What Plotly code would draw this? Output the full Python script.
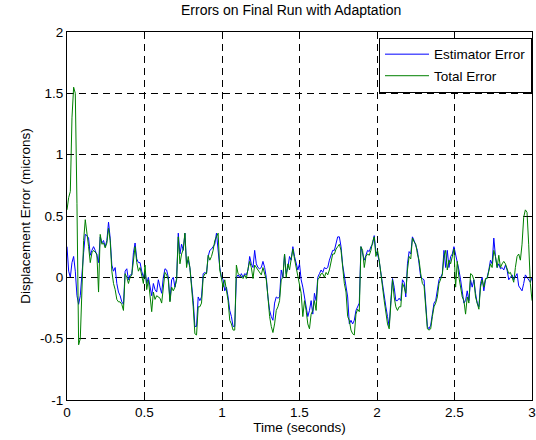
import numpy as np
import plotly.graph_objects as go

# Sample times over the 3 s run (281 samples)
n_samples = 281
time_s = np.linspace(0.0, 3.0, n_samples)

# Estimator error (microns)
estimator_error = [
    0.25, 0.05, 0.00, 0.12, 0.17, 0.05, -0.15, -0.22, -0.15,
    0.05, 0.20, 0.35, 0.34, 0.32, 0.18, 0.22, 0.25, 0.22, 0.18, 0.12, 0.33, 0.28, 0.30,
    0.25, 0.30, 0.45, 0.32, 0.10, 0.05, 0.08, -0.05, -0.12, -0.15, -0.20, -0.22, 0.05,
    0.07, -0.02, 0.02, 0.02, 0.20, 0.28, 0.15, 0.12, 0.12, 0.05,
    0.00, 0.05, -0.05, 0.00, -0.08, -0.15, -0.05, -0.10, -0.12,
    -0.02, -0.08, -0.13, 0.00, 0.07, 0.06, 0.00, -0.19, -0.02, 0.00,
    -0.08, -0.01, 0.36, 0.19, 0.27, 0.22, 0.36, 0.11, 0.14, 0.08,
    -0.05, -0.19, -0.40, -0.40, -0.16, -0.19, -0.16, 0.03, 0.04, 0.03,
    0.17, 0.22, 0.23, 0.25, 0.27, 0.36, 0.19, 0.08, 0.00, -0.02,
    -0.11, -0.08, -0.16, -0.27, -0.32, -0.40, -0.40, 0.00, 0.02, 0.00,
    0.03, 0.00, 0.03, 0.02, 0.06, 0.17, 0.11, 0.08,
    0.22, 0.11, 0.08, 0.07, 0.08, 0.13, 0.08, 0.00, -0.16, -0.27,
    -0.32, -0.35, -0.21, -0.16, -0.17, -0.16, 0.06, 0.00, 0.19, 0.03,
    0.08, 0.17, 0.14, 0.25, 0.17, 0.11, 0.06, 0.11, -0.02, -0.08,
    -0.16, -0.24, -0.32, -0.27, -0.19, -0.30, -0.13, -0.19, 0.00, 0.03,
    0.06, 0.04, 0.08, 0.07, 0.08, 0.14, 0.19, 0.22, 0.22, 0.27,
    0.33, 0.33, 0.25, 0.10, 0.02, -0.05,
    -0.16, -0.38, -0.35, -0.38, -0.35, -0.27, -0.24, -0.21, 0.25, 0.19,
    0.14, 0.18, 0.22, 0.21, 0.25, 0.27, 0.34, 0.21, 0.19, 0.13,
    0.03, -0.05, -0.13, -0.24, -0.32, -0.40, -0.19, -0.01, -0.08, -0.19,
    -0.19, -0.17, -0.19, -0.02, -0.04, -0.16, 0.11, 0.21, 0.19, 0.33,
    0.30, 0.25, 0.22, 0.11, 0.00, -0.01, -0.02, -0.21, -0.40, -0.42,
    -0.39, -0.30, -0.21, -0.19, -0.11, -0.02,
    0.00, 0.03, 0.22, 0.08, 0.22, 0.08, 0.17, 0.19, 0.25, 0.19,
    0.11, 0.06, -0.02, -0.11, -0.21, -0.19, -0.11, -0.19, -0.02, -0.08,
    -0.02, -0.13, -0.21, -0.24, -0.05, 0.00, -0.11, -0.02, 0.00, 0.06,
    0.14, 0.11, 0.32, 0.17, 0.08, 0.11, 0.07, 0.08, 0.06, 0.10,
    0.06, -0.02, 0.00, 0.02, -0.02, 0.00, 0.03, -0.07, -0.09, -0.11,
    -0.05, 0.02, 0.00, -0.02, -0.04, 0.00,
]

# Total error (microns)
total_error = [
    0.55, 0.65, 0.70, 1.30, 1.55, 1.50, 0.60, -0.55, -0.50,
    0.00, 0.30, 0.47, 0.38, 0.25, 0.12, 0.20, 0.22, 0.20, 0.19, -0.12, 0.35, 0.27, 0.28,
    0.24, 0.28, 0.40, 0.30, 0.05, -0.05, -0.10, -0.18, -0.20, -0.20, -0.22, -0.27, 0.03,
    0.00, -0.05, 0.00, 0.02, 0.15, 0.25, 0.12, 0.05, 0.08, 0.00,
    -0.05, 0.10, -0.10, -0.02, -0.15, -0.28, -0.12, -0.18, -0.15,
    -0.16, -0.17, -0.21, -0.08, 0.04, 0.02, -0.02, -0.20, -0.08, -0.11,
    -0.08, -0.02, 0.33, 0.11, 0.19, 0.23, 0.36, 0.08, 0.17, 0.08,
    -0.07, -0.24, -0.46, -0.47, -0.24, -0.24, -0.21, 0.00, 0.03, 0.03,
    0.18, 0.14, 0.17, 0.22, 0.30, 0.33, 0.36, 0.06, -0.02, -0.08,
    -0.02, -0.11, -0.19, -0.35, -0.38, -0.43, -0.43, 0.10, 0.03, 0.02,
    0.00, -0.01, 0.02, -0.01, 0.07, 0.13, 0.08, -0.01,
    0.10, 0.08, 0.06, 0.04, 0.02, 0.08, 0.03, -0.02, -0.16, -0.32,
    -0.40, -0.45, -0.38, -0.27, -0.24, -0.19, -0.02, 0.00, 0.19, 0.00,
    0.11, 0.06, 0.15, 0.23, 0.15, 0.08, 0.00, -0.05, -0.13, -0.32,
    -0.19, -0.27, -0.38, -0.42, -0.30, -0.27, -0.19, -0.27, -0.02, 0.00,
    0.03, 0.03, 0.00, 0.04, 0.02, 0.06, 0.14, 0.19, 0.19, 0.23,
    0.25, 0.27, 0.22, 0.08, -0.05, -0.12,
    -0.32, -0.35, -0.43, -0.46, -0.47, -0.30, -0.26, -0.28, 0.25, 0.22,
    0.08, 0.17, 0.19, 0.18, 0.22, 0.29, 0.33, 0.17, 0.22, 0.14,
    0.00, -0.08, -0.19, -0.30, -0.38, -0.42, -0.24, -0.02, -0.16, -0.24,
    -0.27, -0.24, -0.24, -0.05, -0.08, -0.13, 0.06, 0.17, 0.15, 0.32,
    0.29, 0.27, 0.19, 0.14, 0.03, -0.05, -0.07, -0.24, -0.42, -0.43,
    -0.42, -0.32, -0.24, -0.21, -0.16, -0.05,
    -0.02, 0.02, 0.17, 0.22, 0.06, 0.14, 0.11, 0.18, 0.23, -0.08,
    0.13, 0.00, -0.08, -0.16, -0.19, -0.30, -0.16, -0.21, 0.03, 0.02,
    -0.02, -0.16, -0.21, -0.26, -0.08, -0.02, -0.08, -0.01, -0.01, 0.04,
    0.11, 0.08, 0.22, 0.17, 0.08, 0.18, 0.08, 0.11, 0.13, 0.11,
    0.07, 0.03, 0.04, -0.01, -0.04, 0.08, 0.17, 0.19, 0.14, 0.27,
    0.49, 0.55, 0.53, 0.27, -0.05, -0.19,
]

x_ticks = [0, 0.5, 1, 1.5, 2, 2.5, 3]
x_tick_labels = ["0", "0.5", "1", "1.5", "2", "2.5", "3"]
y_ticks = [-1, -0.5, 0, 0.5, 1, 1.5, 2]
y_tick_labels = ["-1", "-0.5", "0", "0.5", "1", "1.5", "2"]

FONT = "Liberation Sans, Arial, Helvetica, sans-serif"
FS = 13.5

fig = go.Figure()
fig.add_trace(go.Scatter(
    x=time_s, y=estimator_error, mode="lines", name="Estimator Error",
    legendgroup="est", line=dict(color="#0000FF", width=1),
))
fig.add_trace(go.Scatter(
    x=time_s, y=total_error, mode="lines", name="Total Error",
    legendgroup="tot", line=dict(color="#008000", width=1),
))

axis_common = dict(
    showline=True, linecolor="black", linewidth=1, mirror="allticks",
    ticks="inside", ticklen=5, tickcolor="black", tickwidth=1,
    showgrid=True, gridcolor="black", gridwidth=0.8, griddash="7px,5px",
    zeroline=False, automargin=False,
    tickfont=dict(family=FONT, size=FS, color="black"),
)

fig.update_layout(
    width=536, height=440,
    margin=dict(l=67, r=4, t=32, b=40),
    paper_bgcolor="white", plot_bgcolor="white",
    font=dict(family=FONT, size=FS, color="black"),
    title=dict(
        text="Errors on Final Run with Adaptation",
        x=0.482, xanchor="center", xref="paper",
        y=1, yref="container", yanchor="top", pad=dict(t=5),
        font=dict(family=FONT, size=14, color="black"),
    ),
    xaxis=dict(
        range=[0, 3], tickvals=x_ticks, ticktext=x_tick_labels,
        title=dict(text="Time (seconds)", standoff=3,
                   font=dict(family=FONT, size=FS, color="black")),
        **axis_common,
    ),
    yaxis=dict(
        range=[-1, 2], tickvals=y_ticks, ticktext=y_tick_labels,
        title=dict(text="Displacement Error (microns)", standoff=6,
                   font=dict(family=FONT, size=FS, color="black")),
        **axis_common,
    ),
    legend=dict(
        x=1.0, xanchor="right", y=0.984, yanchor="top",
        bgcolor="white", bordercolor="black", borderwidth=1,
        font=dict(family=FONT, size=FS, color="black"),
        itemwidth=44, traceorder="grouped", tracegroupgap=1,
    ),
    showlegend=True,
)

fig.write_html("out.html")
